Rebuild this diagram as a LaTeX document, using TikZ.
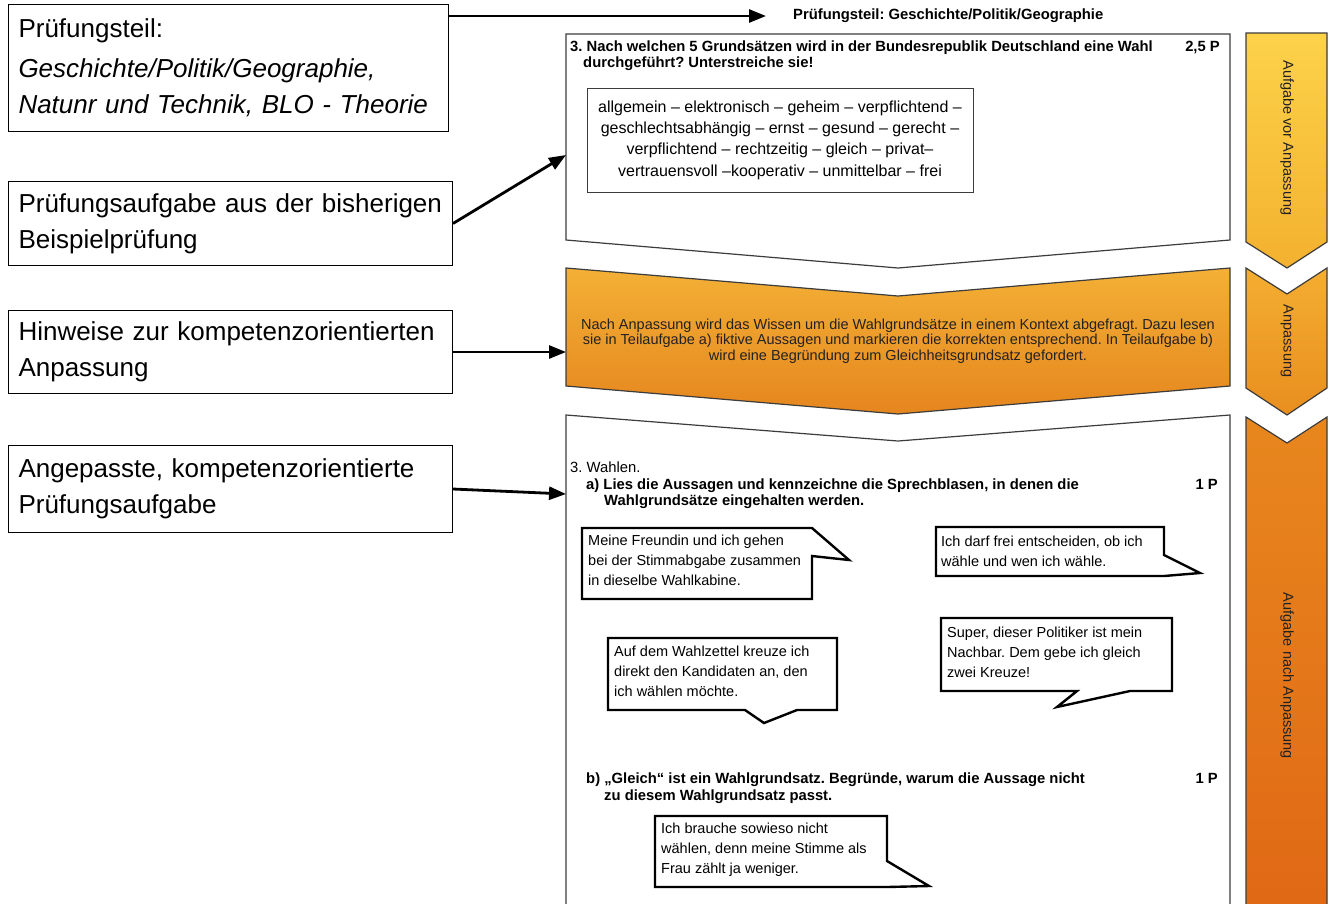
\documentclass[tikz,border=0pt]{standalone}
\usepackage{fontspec}
\setmainfont{Liberation Sans}
\usetikzlibrary{arrows.meta}
\frenchspacing
\definecolor{edge}{HTML}{3C3C3C}
\definecolor{yA}{HTML}{FDD24A}
\definecolor{yB}{HTML}{F3B12F}
\definecolor{oA}{HTML}{F4AE31}
\definecolor{oB}{HTML}{E88E1F}
\definecolor{rA}{HTML}{E8871E}
\definecolor{rB}{HTML}{E06815}
\definecolor{pA}{HTML}{F3B036}
\definecolor{pB}{HTML}{E5861E}
\definecolor{txt}{HTML}{222222}
\tikzset{
  lbox/.style={draw=black, line width=1pt, align=left, inner xsep=10pt, anchor=north west, font=\fontsize{26}{36}\selectfont},
  arr/.style={line width=2.8pt, -{Triangle[length=17pt,width=13pt]}},
  bubble/.style={draw=black, line width=2.4pt, fill=white, line join=miter},
  btext/.style={anchor=west, align=left, inner sep=0pt, font=\fontsize{14.5}{20}\selectfont},
  task/.style={anchor=base west, inner sep=0pt, font=\bfseries\fontsize{14.8}{16}\selectfont},
  plain/.style={anchor=base west, inner sep=0pt, font=\fontsize{14.8}{16}\selectfont},
  panel/.style={draw=edge, line width=1.2pt},
  vlabel/.style={rotate=-90, inner sep=0pt, text=txt, font=\fontsize{14.5}{16}\selectfont}
}
\begin{document}
\begin{tikzpicture}[x=1pt,y=-1pt]
\useasboundingbox (0,0) rectangle (1330,903);
\fill[white] (0,0) rectangle (1330,903);

% left explanation boxes
\node[lbox, text width=420pt, minimum height=127pt] (l1) at (8,4)
  {Prüfungsteil:\\[4pt]\textit{Geschichte/Politik/Geographie,}\\\textit{Natunr und Technik, BLO - Theorie}};
\node[lbox, text width=424pt, minimum height=84pt] (l2) at (8,181)
  {Prüfungsaufgabe aus der bisherigen\\Beispielprüfung};
\node[lbox, text width=424pt, minimum height=83pt] (l3) at (8,310)
  {Hinweise zur kompetenzorientierten\\Anpassung};
\node[lbox, text width=424pt, minimum height=87pt] (l4) at (8,445)
  {Angepasste, kompetenzorientierte\\Prüfungsaufgabe};

% central panels
\path[panel, fill=white] (566,34) -- (1230,34) -- (1230,240) -- (898,268) -- (566,240) -- cycle;
\path[panel, top color=pA, bottom color=pB] (566,268) -- (898,296) -- (1230,268) -- (1230,386) -- (898,414) -- (566,386) -- cycle;
\path[panel, fill=white] (566,415) -- (898,441) -- (1230,415) -- (1230,910) -- (566,910) -- cycle;

% right chevrons
\path[panel, top color=yA, bottom color=yB] (1246,33) -- (1327,33) -- (1327,242) -- (1287,268) -- (1246,242) -- cycle;
\path[panel, top color=oA, bottom color=oB] (1246,268) -- (1287,294) -- (1327,268) -- (1327,388) -- (1287,415) -- (1246,388) -- cycle;
\path[panel, top color=rA, bottom color=rB] (1246,417) -- (1287,443) -- (1327,417) -- (1327,910) -- (1246,910) -- cycle;
\node[vlabel] (c1) at (1287,138) {Aufgabe vor Anpassung};
\node[vlabel] (c2) at (1287,341) {Anpassung};
\node[vlabel] (c3) at (1287,676) {Aufgabe nach Anpassung};

% header
\node[anchor=west, inner sep=0pt, font=\bfseries\fontsize{14.8}{16}\selectfont] (hdr) at (793,16) {Prüfungsteil: Geschichte/Politik/Geographie};

% panel 1 content
\node[task] (q1a) at (570,51) {3. Nach welchen 5 Grundsätzen wird in der Bundesrepublik Deutschland eine Wahl};
\node[task] (q1b) at (583,67) {durchgeführt? Unterstreiche sie!};
\node[task, anchor=base east] (q1p) at (1220,51) {2,5 P};
\node[draw=edge, line width=1pt, minimum width=386pt, minimum height=104pt, align=center, inner sep=0pt,
      font=\fontsize{16}{21.3}\selectfont] (ib) at (780,140)
  {allgemein – elektronisch – geheim – verpflichtend –\\
   geschlechtsabhängig – ernst – gesund – gerecht –\\
   verpflichtend – rechtzeitig – gleich – privat–\\
   vertrauensvoll –kooperativ – unmittelbar – frei};

% orange panel content
\node[align=center, inner sep=0pt, text=txt, font=\fontsize{14.5}{15.5}\selectfont] (hint) at (898,341)
  {Nach Anpassung wird das Wissen um die Wahlgrundsätze in einem Kontext abgefragt. Dazu lesen\\
   sie in Teilaufgabe a) fiktive Aussagen und markieren die korrekten entsprechend. In Teilaufgabe b)\\
   wird eine Begründung zum Gleichheitsgrundsatz gefordert.};

% panel 3 content
\node[plain] (q3) at (570,472) {3. Wahlen.};
\node[task] (qa1) at (586,489) {a) Lies die Aussagen und kennzeichne die Sprechblasen, in denen die};
\node[task] (qa2) at (604,505) {Wahlgrundsätze eingehalten werden.};
\node[task, anchor=base east] (qap) at (1218,489) {1 P};
\node[task] (qb1) at (586,783) {b) „Gleich“ ist ein Wahlgrundsatz. Begründe, warum die Aussage nicht};
\node[task] (qb2) at (604,800) {zu diesem Wahlgrundsatz passt.};
\node[task, anchor=base east] (qbp) at (1218,783) {1 P};

% speech bubbles
\draw[bubble] (582,528) -- (812,528) -- (849,560) -- (812,556) -- (812,599) -- (582,599) -- cycle;
\node[btext] (b1) at (588,560) {Meine Freundin und ich gehen\\bei der Stimmabgabe zusammen\\in dieselbe Wahlkabine.};
\draw[bubble] (936,527) -- (1164,527) -- (1164,555) -- (1200,573) -- (1164,576) -- (936,576) -- cycle;
\node[btext] (b2) at (941,551) {Ich darf frei entscheiden, ob ich\\wähle und wen ich wähle.};
\draw[bubble] (608,638) -- (837,638) -- (837,710) -- (797,710) -- (764,723) -- (745,710) -- (608,710) -- cycle;
\node[btext] (b3) at (614,671) {Auf dem Wahlzettel kreuze ich\\direkt den Kandidaten an, den\\ich wählen möchte.};
\draw[bubble] (941,618) -- (1172,618) -- (1172,691) -- (1130,691) -- (1057,707) -- (1077,691) -- (941,691) -- cycle;
\node[btext] (b4) at (947,652) {Super, dieser Politiker ist mein\\Nachbar. Dem gebe ich gleich\\zwei Kreuze!};
\draw[bubble] (655,816) -- (887,816) -- (887,861) -- (929,886) -- (887,887) -- (655,887) -- cycle;
\node[btext] (b5) at (661,850) {Ich brauche sowieso nicht\\wählen, denn meine Stimme als\\Frau zählt ja weniger.};

% connectors
\coordinate (t1) at (766,16);
\coordinate (p1) at (566,155);
\coordinate (p2) at (566,352);
\coordinate (p3) at (566,494);
\draw[arr] (l1.north east |- t1) -- (t1);
\draw[arr] (l2.east) -- (p1);
\draw[arr] (l3.east) -- (p2);
\draw[arr] (l4.east) -- (p3);
\end{tikzpicture}
\end{document}
